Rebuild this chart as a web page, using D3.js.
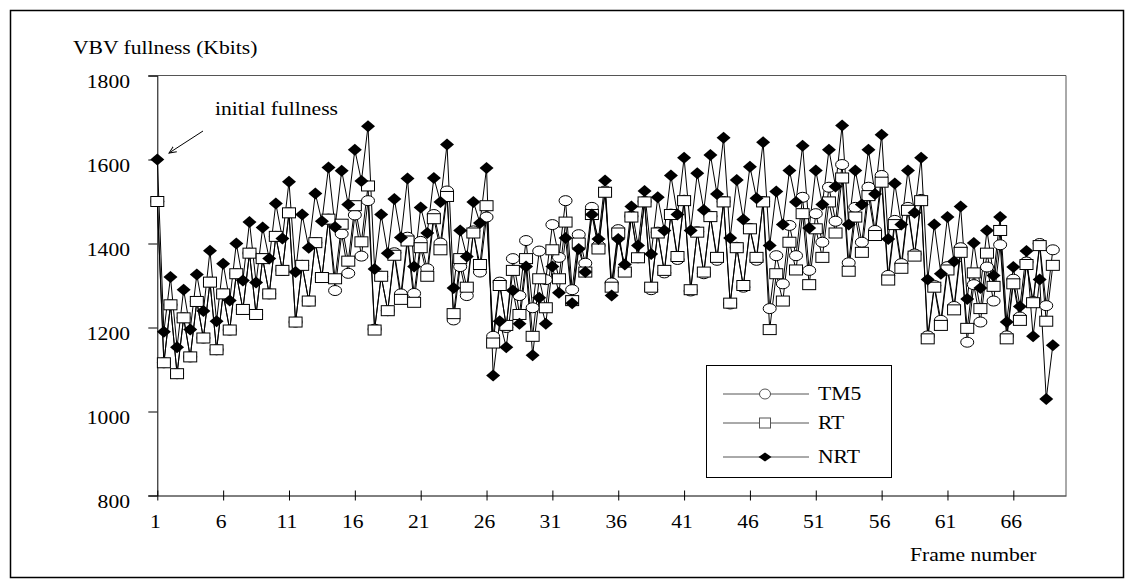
<!DOCTYPE html>
<html>
<head>
<meta charset="utf-8">
<script src="https://cdn.jsdelivr.net/npm/d3@7"></script>
<style>
  body { margin: 0; background: #fff; }
  text { font-family: "Liberation Serif", "Times New Roman", serif; font-size: 18px; fill: #000; }
</style>
</head>
<body>
<div id="chart"></div>
<script>
// VBV buffer fullness (Kbits), two samples per frame (before / after picture removal)
const tm5 = [1500, 1116, 1254, 1090, 1223, 1130, 1262, 1175, 1308, 1147, 1280, 1194, 1328, 1243, 1377, 1231,
  1364, 1280, 1417, 1336, 1473, 1213, 1348, 1263, 1402, 1319, 1458, 1288, 1423, 1329, 1468, 1370,
  1502, 1196, 1322, 1240, 1378, 1280, 1415, 1281, 1405, 1340, 1469, 1401, 1525, 1218, 1345, 1276,
  1430, 1332, 1463, 1179, 1308, 1200, 1364, 1276, 1407, 1247, 1382, 1314, 1445, 1367, 1502, 1290,
  1421, 1353, 1486, 1395, 1525, 1306, 1433, 1335, 1465, 1366, 1500, 1290, 1427, 1330, 1470, 1362,
  1503, 1287, 1428, 1328, 1465, 1360, 1500, 1256, 1391, 1296, 1436, 1360, 1500, 1245, 1371, 1304,
  1443, 1371, 1510, 1336, 1471, 1403, 1534, 1453, 1588, 1354, 1486, 1403, 1534, 1431, 1562, 1324,
  1455, 1352, 1486, 1375, 1505, 1180, 1300, 1217, 1345, 1250, 1390, 1165, 1302, 1213, 1344, 1263,
  1397, 1180, 1315, 1225, 1356, 1262, 1400, 1252, 1385];

const rt = [1500, 1116, 1254, 1090, 1223, 1130, 1262, 1175, 1308, 1147, 1280, 1194, 1328, 1243, 1377, 1231,
  1364, 1280, 1417, 1336, 1473, 1213, 1348, 1263, 1402, 1319, 1458, 1316, 1446, 1358, 1490, 1404,
  1537, 1194, 1322, 1240, 1372, 1267, 1406, 1260, 1390, 1322, 1459, 1385, 1512, 1233, 1364, 1296,
  1425, 1350, 1490, 1163, 1300, 1205, 1336, 1231, 1364, 1179, 1316, 1247, 1385, 1316, 1451, 1264,
  1401, 1332, 1469, 1387, 1522, 1296, 1425, 1332, 1463, 1366, 1499, 1296, 1425, 1336, 1469, 1369,
  1502, 1290, 1427, 1332, 1464, 1367, 1499, 1258, 1390, 1300, 1435, 1367, 1499, 1195, 1328, 1263,
  1403, 1337, 1471, 1302, 1435, 1367, 1499, 1425, 1556, 1334, 1463, 1379, 1514, 1419, 1546, 1313,
  1445, 1341, 1479, 1370, 1502, 1173, 1296, 1205, 1337, 1242, 1379, 1198, 1330, 1245, 1377, 1298,
  1431, 1173, 1304, 1217, 1350, 1259, 1395, 1215, 1348];

const nrt = [1600, 1190, 1320, 1153, 1290, 1195, 1326, 1239, 1383, 1215, 1352, 1264, 1400, 1312, 1451, 1307,
  1438, 1364, 1495, 1412, 1547, 1332, 1469, 1390, 1519, 1453, 1581, 1439, 1573, 1493, 1623, 1549,
  1679, 1339, 1469, 1377, 1506, 1414, 1555, 1345, 1486, 1425, 1556, 1499, 1636, 1294, 1431, 1369,
  1499, 1449, 1580, 1086, 1215, 1153, 1288, 1209, 1345, 1134, 1271, 1209, 1345, 1283, 1413, 1258,
  1387, 1332, 1469, 1411, 1550, 1276, 1411, 1350, 1488, 1395, 1525, 1375, 1510, 1431, 1562, 1469,
  1604, 1431, 1567, 1480, 1611, 1518, 1652, 1413, 1551, 1457, 1583, 1508, 1641, 1395, 1524, 1445,
  1574, 1499, 1633, 1437, 1574, 1493, 1623, 1536, 1681, 1445, 1574, 1493, 1623, 1518, 1659, 1411,
  1543, 1445, 1574, 1473, 1604, 1314, 1445, 1328, 1463, 1357, 1488, 1268, 1401, 1294, 1431, 1324,
  1463, 1213, 1344, 1250, 1382, 1179, 1314, 1030, 1158];

const seriesNames = ["TM5", "RT", "NRT"];
const frameTicks = [1, 6, 11, 16, 21, 26, 31, 36, 41, 46, 51, 56, 61, 66];
const yTicks = [800, 1000, 1200, 1400, 1600, 1800];

const width = 1133, height = 587;
const plot = { left: 157.3, right: 1066, top: 75.5, bottom: 495.5 };
const stretch = 1.2; // the original figure is stretched horizontally

const svg = d3.select("#chart").append("svg")
    .attr("width", width)
    .attr("height", height);

// sample i sits half a frame after sample i-1
const frameOf = i => 1 + i / 2;

const xScale = d3.scaleLinear().domain([1, 70]).range([plot.left, plot.right]);
const yScale = d3.scaleLinear().domain([800, 1800]).range([plot.bottom, plot.top]);

function addText(x, y, str, anchor) {
    svg.append("text")
        .attr("transform", "translate(" + x + "," + y + ") scale(" + stretch + ",1)")
        .attr("text-anchor", anchor || "start")
        .text(str);
}

// outer frame
svg.append("rect")
    .attr("x", 10.5).attr("y", 10.5)
    .attr("width", 1113).attr("height", 567)
    .attr("fill", "none").attr("stroke", "#000").attr("stroke-width", 1.5);

// plot area border (top and right)
svg.append("path")
    .attr("d", "M" + plot.left + "," + plot.top + "H" + plot.right + "V" + plot.bottom)
    .attr("fill", "none").attr("stroke", "#555").attr("stroke-width", 1);

// y axis
const yAxis = svg.append("g")
    .attr("transform", "translate(" + plot.left + ",0)")
    .call(d3.axisLeft(yScale).tickValues(yTicks).tickSize(9).tickFormat(""));
yAxis.select(".domain").attr("stroke", "#000");
yAxis.selectAll(".tick line").attr("stroke", "#000");
yTicks.forEach(v => addText(130, yScale(v) + 12, v, "end"));

// x axis, ticks cross the line
const xAxis = svg.append("g")
    .attr("transform", "translate(0," + plot.bottom + ")")
    .call(d3.axisBottom(xScale).tickValues(frameTicks).tickSize(5).tickSizeOuter(0).tickFormat(""));
xAxis.select(".domain").attr("stroke", "#000");
xAxis.selectAll(".tick line").attr("stroke", "#000").attr("y1", -5);
frameTicks.forEach(f => addText(xScale(f) - 2, 528, f, "middle"));

addText(73, 54, "VBV fullness (Kbits)");
addText(910, 561, "Frame number");

// annotation
addText(215, 115, "initial fullness");
svg.append("defs").append("marker")
    .attr("id", "arrow")
    .attr("viewBox", "0 0 10 10")
    .attr("refX", 9).attr("refY", 5)
    .attr("markerWidth", 8).attr("markerHeight", 8)
    .attr("orient", "auto")
  .append("path")
    .attr("d", "M0,1L9,5L0,9")
    .attr("fill", "none").attr("stroke", "#000").attr("stroke-width", 1.2);
svg.append("line")
    .attr("x1", 203).attr("y1", 131)
    .attr("x2", 169).attr("y2", 153)
    .attr("stroke", "#000").attr("stroke-width", 1)
    .attr("marker-end", "url(#arrow)");

// series
const allSeries = [tm5, rt, nrt];
const line = d3.line()
    .x((d, i) => xScale(frameOf(i)))
    .y(d => yScale(d));

allSeries.forEach(values => {
    svg.append("path")
        .datum(values)
        .attr("d", line)
        .attr("fill", "none")
        .attr("stroke", "#000")
        .attr("stroke-width", 1);
});

// marker drawers: w and h of a marker, centred on (0,0)
function drawMarker(g, type, w, h) {
    if (type === "TM5") {
        g.append("ellipse").attr("rx", w / 2).attr("ry", h / 2)
            .attr("fill", "#fff").attr("stroke", "#000").attr("stroke-width", 1);
    } else if (type === "RT") {
        g.append("rect").attr("x", -w / 2).attr("y", -h / 2).attr("width", w).attr("height", h)
            .attr("fill", "#fff").attr("stroke", "#000").attr("stroke-width", 1);
    } else {
        g.append("path")
            .attr("d", "M0," + (-h / 2) + "L" + (w / 2) + ",0L0," + (h / 2) + "L" + (-w / 2) + ",0Z")
            .attr("fill", "#000");
    }
}

allSeries.forEach((values, s) => {
    const sizes = s === 2 ? [14, 12] : [13, 10];
    svg.append("g").selectAll("g")
        .data(values)
        .enter()
        .append("g")
            .attr("transform", (d, i) => "translate(" + xScale(frameOf(i)) + "," + yScale(d) + ")")
            .each(function() { drawMarker(d3.select(this), seriesNames[s], sizes[0], sizes[1]); });
});

// legend
const legend = svg.append("g");
legend.append("rect")
    .attr("x", 706.5).attr("y", 365.5)
    .attr("width", 185).attr("height", 112)
    .attr("fill", "#fff").attr("stroke", "#000").attr("stroke-width", 1);
const legendY = [394, 423, 457];
seriesNames.forEach((name, s) => {
    legend.append("line")
        .attr("x1", 723).attr("x2", 809)
        .attr("y1", legendY[s]).attr("y2", legendY[s])
        .attr("stroke", "#555").attr("stroke-width", 1);
    const g = legend.append("g").attr("transform", "translate(765," + legendY[s] + ")");
    drawMarker(g, name, s === 2 ? 13 : 11, s === 2 ? 9 : 10);
    if (name === "RT") g.select("rect").attr("stroke", "#555");
    if (name === "TM5") g.select("ellipse").attr("stroke", "#555");
    addText(818, legendY[s] + 6, name);
});
</script>
</body>
</html>
